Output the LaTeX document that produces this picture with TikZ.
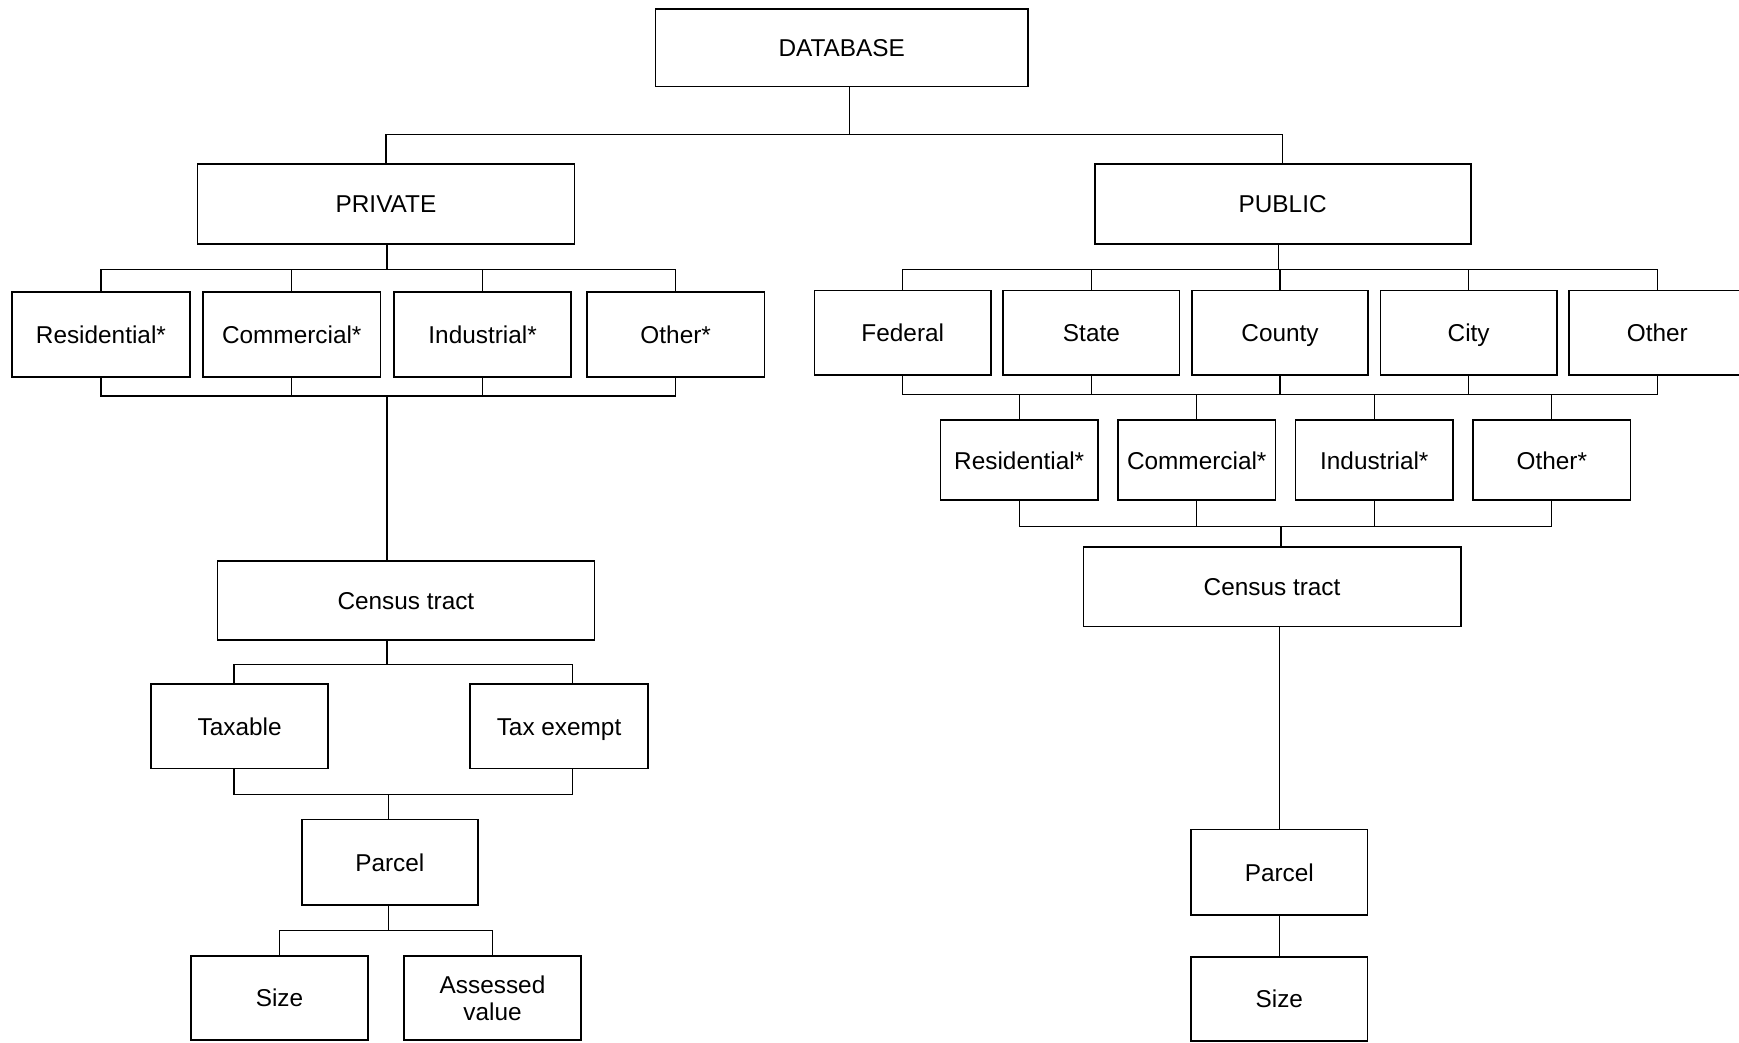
\documentclass[tikz,border=0pt]{standalone}
\usepackage{fontspec}
\setmainfont{Liberation Sans}
\usetikzlibrary{positioning}

\begin{document}
\begin{tikzpicture}[node distance=0.21cm, every node/.style={font=\fontsize{12.5}{14}\selectfont, align=center},
  box/.style={draw, line width=0.9pt, minimum width=3.2cm, minimum height=1.52cm, inner sep=0pt, text height=1.1em, text depth=0.2em},
  link/.style={line width=0.6pt}]
\useasboundingbox (0,0) rectangle (31.36,-18.80);

\node[box, minimum width=6.72cm, minimum height=1.40cm] (db) at (15.18,-0.86) {DATABASE};
\node[box, minimum width=6.80cm, minimum height=1.44cm] (priv) at (6.96,-3.68) {PRIVATE};
\node[box, minimum width=6.78cm, minimum height=1.44cm] (pub) at (23.13,-3.68) {PUBLIC};
\coordinate (top) at (15.32,-2.42);
\draw[link] (top |- db.south) -- (top) -| (priv.north);
\draw[link] (top) -| (pub.north);

\node[box, minimum height=1.54cm] (pres) at (1.82,-6.03) {Residential*};
\node[box, minimum height=1.54cm, right=of pres] (pcom) {Commercial*};
\node[box, minimum height=1.54cm, right=of pcom] (pind) {Industrial*};
\node[box, minimum height=1.54cm, right=0.25cm of pind] (poth) {Other*};
\coordinate (pa) at (6.98,-4.86);
\coordinate (pb) at (6.98,-7.14);
\draw[link] (pa |- priv.south) -- (pa);
\foreach \n in {pres,pcom,pind,poth} \draw[link] (pa) -| (\n.north);
\foreach \n in {pres,pcom,pind,poth} \draw[link] (\n.south) |- (pb);

\node[box, minimum width=6.80cm, minimum height=1.42cm] (pct) at (7.32,-10.83) {Census tract};
\draw[link] (pb) -- (pb |- pct.north);
\node[box] (tax) at (4.32,-13.10) {Taxable};
\node[box, right=2.53cm of tax] (exem) {Tax exempt};
\coordinate (pc) at (6.98,-11.98);
\draw[link] (pc |- pct.south) -- (pc);
\draw[link] (pc) -| ([xshift=-0.1cm]tax.north);
\draw[link] (pc) -| ([xshift=0.24cm]exem.north);
\coordinate (pd) at (7.00,-14.32);
\draw[link] ([xshift=-0.1cm]tax.south) |- (pd);
\draw[link] ([xshift=0.24cm]exem.south) |- (pd);

\node[box, minimum width=3.18cm, minimum height=1.54cm] (ppar) at (7.03,-15.55) {Parcel};
\draw[link] (pd) -- (pd |- ppar.north);
\node[box] (psize) at (5.04,-18.00) {Size};
\node[box, right=0.61cm of psize, text height={}, text depth={}] (pval) {Assessed\\value};
\coordinate (pe) at (7.00,-16.78);
\draw[link] (pe |- ppar.south) -- (pe);
\draw[link] (pe) -| (psize.north);
\draw[link] (pe) -| (pval.north);

\node[box, minimum width=3.18cm] (fed) at (16.28,-6.00) {Federal};
\node[box, minimum width=3.18cm, right=0.19cm of fed] (state) {State};
\node[box, minimum width=3.18cm, right=0.19cm of state] (county) {County};
\node[box, minimum width=3.18cm, right=0.19cm of county] (city) {City};
\node[box, minimum width=3.18cm, right=0.19cm of city] (other) {Other};
\coordinate (qa) at (23.06,-4.86);
\coordinate (qb) at (23.10,-7.12);
\draw[link] (qa |- pub.south) -- (qa);
\foreach \n in {fed,state,county,city,other} \draw[link] (qa) -| (\n.north);
\foreach \n in {fed,state,county,city,other} \draw[link] (\n.south) |- (qb);

\node[box, minimum width=2.84cm, minimum height=1.44cm] (qres) at (18.38,-8.30) {Residential*};
\node[box, minimum width=2.84cm, minimum height=1.44cm, right=0.33cm of qres] (qcom) {Commercial*};
\node[box, minimum width=2.84cm, minimum height=1.44cm, right=0.33cm of qcom] (qind) {Industrial*};
\node[box, minimum width=2.84cm, minimum height=1.44cm, right=0.33cm of qind] (qoth) {Other*};
\coordinate (qc) at (23.10,-9.50);
\foreach \n in {qres,qcom,qind,qoth} \draw[link] (qb) -| (\n.north);
\foreach \n in {qres,qcom,qind,qoth} \draw[link] (\n.south) |- (qc);

\node[box, minimum width=6.80cm, minimum height=1.44cm] (qct) at (22.94,-10.58) {Census tract};
\draw[link] (qc) -- (qc |- qct.north);
\node[box, minimum width=3.18cm, minimum height=1.54cm] (qpar) at (23.07,-15.73) {Parcel};
\draw[link] (qpar.north |- qct.south) -- (qpar.north);
\node[box, minimum width=3.18cm, below=0.72cm of qpar] (qsize) {Size};
\draw[link] (qpar) -- (qsize);
\end{tikzpicture}
\end{document}
